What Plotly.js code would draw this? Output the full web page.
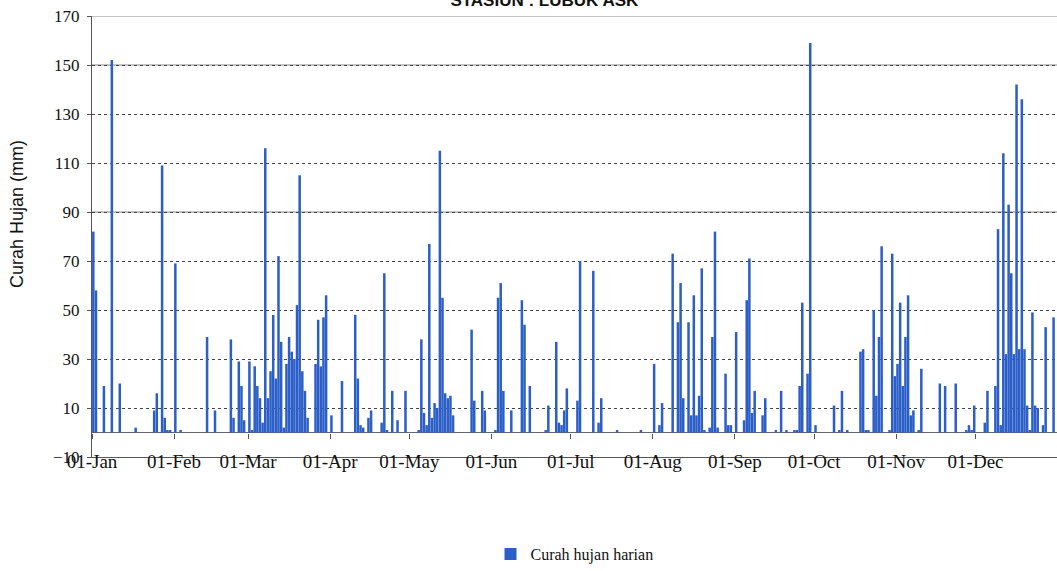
<!DOCTYPE html>
<html>
<head>
<meta charset="utf-8">
<script src="https://cdn.plot.ly/plotly-3.0.1.min.js"></script>
<style>html,body{margin:0;padding:0;background:#fff;}#chart{width:1057px;height:571px;}</style>
</head>
<body>
<div id="chart"></div>
<script>
// Daily rainfall (mm), one array per month
const year = 2010;
const jan = [82,58,0,0,19,0,0,152,0,0, 20,0,0,0,0,0,2,0,0,0, 0,0,0,9,16,0,109,6,1,1, 0];
const feb = [69,0,1,0,0,0,0,0,0,0, 0,0,39,0,0,9,0,0,0,0, 0,38,6,0,29,19,5,0];
const mar = [29,1,27,19,14,4,116,14,25,48, 22,72,37,2,28,39,33,30,52,105, 25,17,6,0,0,28,46,27,47,56, 0];
const apr = [7,0,0,0,21,0,0,0,0,48, 22,3,2,0,6,9,0,0,0,4, 65,1,0,17,0,5,0,0,17,0];
const may = [0,0,0,1,38,8,3,77,6,12, 10,115,55,16,14,15,7,0,0,0, 0,0,0,42,13,0,0,17,9,0, 0];
const jun = [0,1,55,61,17,0,0,9,0,0, 0,54,44,0,19,0,0,0,0,0, 1,11,0,0,37,4,3,9,18,0];
const jul = [0,0,13,70,0,0,0,0,66,0, 4,14,0,0,0,0,0,1,0,0, 0,0,0,0,0,0,1,0,0,0, 0];
const aug = [28,0,3,12,0,0,0,73,0,45, 61,14,0,45,7,56,7,15,67,1, 0,2,39,82,2,0,0,24,3,3, 0];
const sep = [41,0,0,5,54,71,8,17,0,0, 7,14,0,0,0,1,0,17,0,1, 0,0,1,1,19,53,0,24,159,0];
const oct = [3,0,0,0,0,0,0,11,0,1, 17,0,1,0,0,0,0,33,34,1, 1,0,50,15,39,76,0,0,1,73, 23];
const nov = [28,53,19,39,56,7,9,0,1,26, 0,0,0,0,0,0,20,0,19,0, 0,0,20,0,0,0,1,3,1,11];
const dec = [0,0,0,4,17,0,0,19,83,3, 114,32,93,65,32,142,34,136,34,11, 1,49,11,10,0,3,43,0,0,47, 0];
const months = [jan,feb,mar,apr,may,jun,jul,aug,sep,oct,nov,dec];

const seriesName = 'Curah hujan harian';
const chartTitle = 'STASIUN : LUBUK ASK';
const yTitle = 'Curah Hujan (mm)';

const pad = n => String(n).padStart(2,'0');
const xDates = [], yVals = [];
months.forEach((arr, m) => {
  arr.forEach((v, i) => {
    xDates.push(year + '-' + pad(m+1) + '-' + pad(i+1));
    yVals.push(v);
  });
});

const axisGrey = '#555';
const serif = 'Liberation Serif, Times New Roman, serif';
const sans = 'Liberation Sans, Arial, sans-serif';
const xRange = ['2010-01-01 00:00', '2010-12-31 19:00'];
const dayMs = 86400000;

const traces = [
  {
    type: 'bar', x: xDates, y: yVals, name: seriesName,
    xperiod: dayMs, xperiodalignment: 'middle', width: dayMs * 0.95,
    marker: {color: '#2c5ec7', line: {width: 0}},
    hoverinfo: 'x+y'
  },
  {
    type: 'scatter', x: [xDates[0]], y: [null], xaxis: 'x2', yaxis: 'y',
    showlegend: false, hoverinfo: 'skip', mode: 'markers'
  }
];

const solidGrid = [170, 150, 90];

const layout = {
  width: 1057, height: 571,
  margin: {l: 92, r: 0, t: 16, b: 111, pad: 0},
  paper_bgcolor: '#fff', plot_bgcolor: '#fff',
  showlegend: true,
  title: {
    text: chartTitle, x: 0.515, xref: 'container', xanchor: 'center',
    y: 1, yref: 'container', yanchor: 'middle',
    font: {family: sans, size: 17, color: '#111', weight: 'bold'}
  },
  xaxis: {
    type: 'date', range: xRange, tickformat: '%d-%b', dtick: 'M1', tick0: '2010-01-01',
    ticks: '', showline: true, linecolor: axisGrey, linewidth: 1,
    showgrid: false, zeroline: false, fixedrange: true,
    tickfont: {family: serif, size: 19, color: '#111'},
    ticklabelstandoff: -13
  },
  xaxis2: {
    type: 'date', range: xRange, overlaying: 'x', anchor: 'free', position: 10/180,
    dtick: 'M1', tick0: '2010-01-01', ticks: 'outside', ticklen: 5, tickcolor: axisGrey,
    showticklabels: false, showgrid: false, zeroline: false, showline: false
  },
  yaxis: {
    range: [-10, 170], tick0: -10, dtick: 20, ticks: 'outside', ticklen: 4, tickcolor: axisGrey,
    showline: true, linecolor: axisGrey, linewidth: 1,
    showgrid: true, gridcolor: '#444', griddash: 'dot', gridwidth: 1,
    zeroline: true, zerolinecolor: '#666', zerolinewidth: 1,
    tickfont: {family: serif, size: 17, color: '#111'},
    ticklabelstandoff: 4
  },
  annotations: [{
    text: yTitle, textangle: -90, xref: 'paper', yref: 'paper',
    x: -0.0772, y: 0.55, xanchor: 'center', yanchor: 'middle', showarrow: false,
    font: {family: sans, size: 18, color: '#111'}
  }],
  shapes: solidGrid.map(v => ({
    type: 'line', xref: 'paper', x0: 0, x1: 1, yref: 'y', y0: v, y1: v,
    line: {color: '#888', width: 1}, layer: 'below'
  })),
  legend: {
    orientation: 'h', x: 0.5, xanchor: 'center', y: -0.22, yanchor: 'middle',
    font: {family: serif, size: 16, color: '#111'}, itemwidth: 30
  }
};

Plotly.newPlot('chart', traces, layout, {displayModeBar: false, staticPlot: true});
</script>
</body>
</html>
